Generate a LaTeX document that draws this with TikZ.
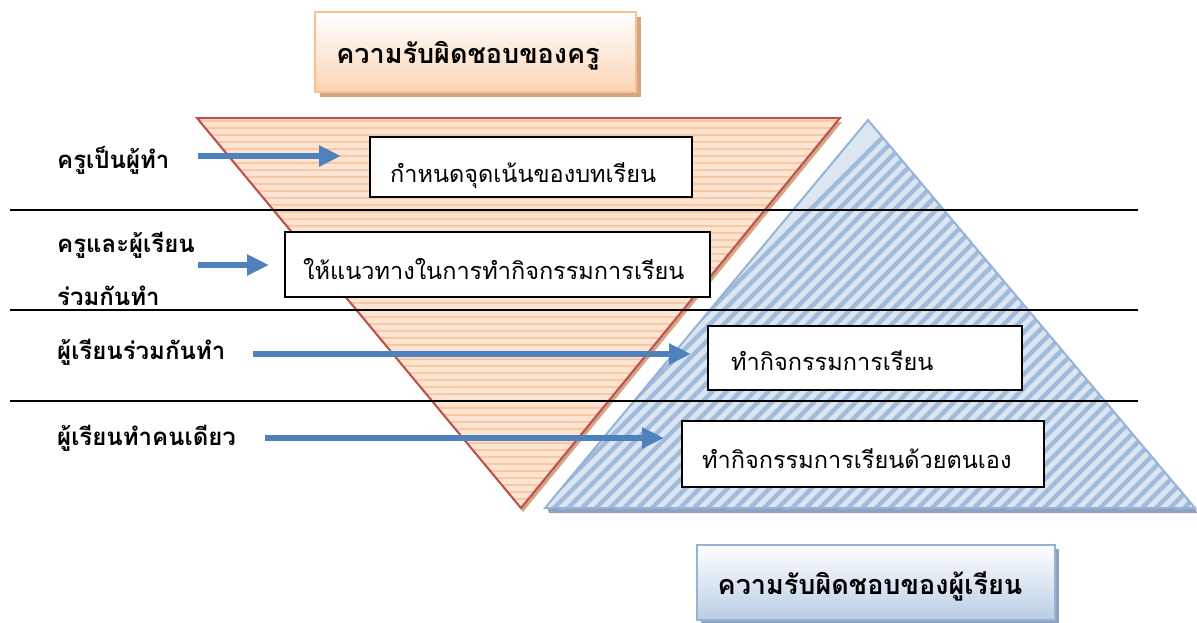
\documentclass[tikz,border=0pt]{standalone}
\usepackage{fontspec}
\newfontfamily\thai[Script=Thai]{Loma}
\usetikzlibrary{arrows.meta,shadows}
\definecolor{orfill}{HTML}{FCE4D3}
\definecolor{orstripe}{HTML}{F9C8A0}
\definecolor{redline}{HTML}{C0504D}
\definecolor{tanshadow}{HTML}{D2A585}
\definecolor{blfill}{HTML}{DCE6F2}
\definecolor{blstripe}{HTML}{95B3D7}
\definecolor{blshadow}{HTML}{8FA2BC}
\definecolor{arrowblue}{HTML}{4F81BD}
\definecolor{titleor}{HTML}{FBD4B4}
\definecolor{titleorline}{HTML}{FAC090}
\definecolor{titlebl}{HTML}{B9CDE5}
\tikzset{
  textbox/.style={draw=black, line width=1.6pt, fill=white, inner sep=0pt},
  boxtext/.style={anchor=west, inner sep=0pt, font=\thai\fontsize{23.5}{28}\selectfont},
  sidelabel/.style={anchor=west, inner sep=0pt, font=\thai\bfseries\fontsize{24}{28}\selectfont},
  arr/.style={draw=arrowblue, line width=5.5pt, -{Triangle[length=22pt,width=20pt]}},
  divider/.style={draw=black, line width=1.3pt},
  titletext/.style={inner sep=0pt, font=\thai\bfseries\fontsize{27}{32}\selectfont},
  titleA/.style={draw=titleorline, line width=2pt, top color=white, bottom color=titleor,
    drop shadow={shadow xshift=5pt, shadow yshift=-5pt, fill=tanshadow, opacity=1}},
  titleB/.style={draw=blstripe, line width=2pt, top color=white, bottom color=titlebl,
    drop shadow={shadow xshift=4pt, shadow yshift=-4pt, fill=blshadow, opacity=1}}
}
\begin{document}
\begin{tikzpicture}[x=1pt,y=-1pt]
\useasboundingbox (0,0) rectangle (1197,622);
% orange inverted triangle
\fill[tanshadow] (199,122) -- (842,122) -- (523,512) -- cycle;
\begin{scope}
  \clip (197,118) -- (840,118) -- (521,508) -- cycle;
  \fill[orfill] (190,110) rectangle (850,515);
  \foreach \y in {121,128,...,510} \draw[orstripe, line width=2.5pt] (190,\y) -- (850,\y);
\end{scope}
\draw[redline, line width=2pt, line join=miter] (197,118) -- (840,118) -- (521,508) -- cycle;
% blue triangle
\fill[blshadow] (547,507) -- (1195,507) -- (1197,513) -- (549,513) -- cycle;
\begin{scope}
  \clip (545,508) -- (868,120) -- (1195,508) -- cycle;
  \fill[blfill] (540,115) rectangle (1197,512);
  \foreach \x in {500,514,...,1620} \draw[blstripe!85!blfill, line width=4.5pt] (\x,520) -- (\x+420,100);
\end{scope}
\draw[blstripe, line width=2pt, line join=miter] (545,508) -- (868,120) -- (1195,508) -- cycle;
% dividers
\draw[divider] (10,210) -- (1138,210);
\draw[divider] (10,310) -- (1138,310);
\draw[divider] (10,401) -- (1138,401);
% titles
\node[titleA, minimum width=321pt, minimum height=80pt] (tA) at (475.5,52) {};
\node[titletext] (tAt) at (468,56) {ความรับผิดชอบของครู};
\node[titleB, minimum width=358pt, minimum height=75pt] (tB) at (876,582.5) {};
\node[titletext] (tBt) at (870,586) {ความรับผิดชอบของผู้เรียน};
% boxes
\node[textbox, minimum width=322pt, minimum height=60pt] (b1) at (531,167) {};
\node[textbox, minimum width=425pt, minimum height=65pt] (b2) at (497.5,264.5) {};
\node[textbox, minimum width=314pt, minimum height=64pt] (b3) at (865,358) {};
\node[textbox, minimum width=362pt, minimum height=66pt] (b4) at (863,454) {};
\node[boxtext] (t1) at (390,176) {กำหนดจุดเน้นของบทเรียน};
\node[boxtext] (t2) at (303,269) {ให้แนวทางในการทำกิจกรรมการเรียน};
\node[boxtext] (t3) at (731,361) {ทำกิจกรรมการเรียน};
\node[boxtext] (t4) at (702,459) {ทำกิจกรรมการเรียนด้วยตนเอง};
% side labels
\node[sidelabel] (l1) at (57,160) {ครูเป็นผู้ทำ};
\node[sidelabel] (l2a) at (57,245) {ครูและผู้เรียน};
\node[sidelabel] (l2b) at (57,296) {ร่วมกันทำ};
\node[sidelabel] (l3) at (57,352) {ผู้เรียนร่วมกันทำ};
\node[sidelabel] (l4) at (57,438) {ผู้เรียนทำคนเดียว};
% arrows
\coordinate (a1s) at (198,156); \coordinate (a1e) at (341,156);
\coordinate (a2s) at (198,265); \coordinate (a2e) at (269,265);
\coordinate (a3s) at (253,354); \coordinate (a3e) at (691,354);
\coordinate (a4s) at (265,438); \coordinate (a4e) at (664,438);
\draw[arr] (a1s) -- (a1e);
\draw[arr] (a2s) -- (a2e);
\draw[arr] (a3s) -- (a3e);
\draw[arr] (a4s) -- (a4e);
\end{tikzpicture}
\end{document}
